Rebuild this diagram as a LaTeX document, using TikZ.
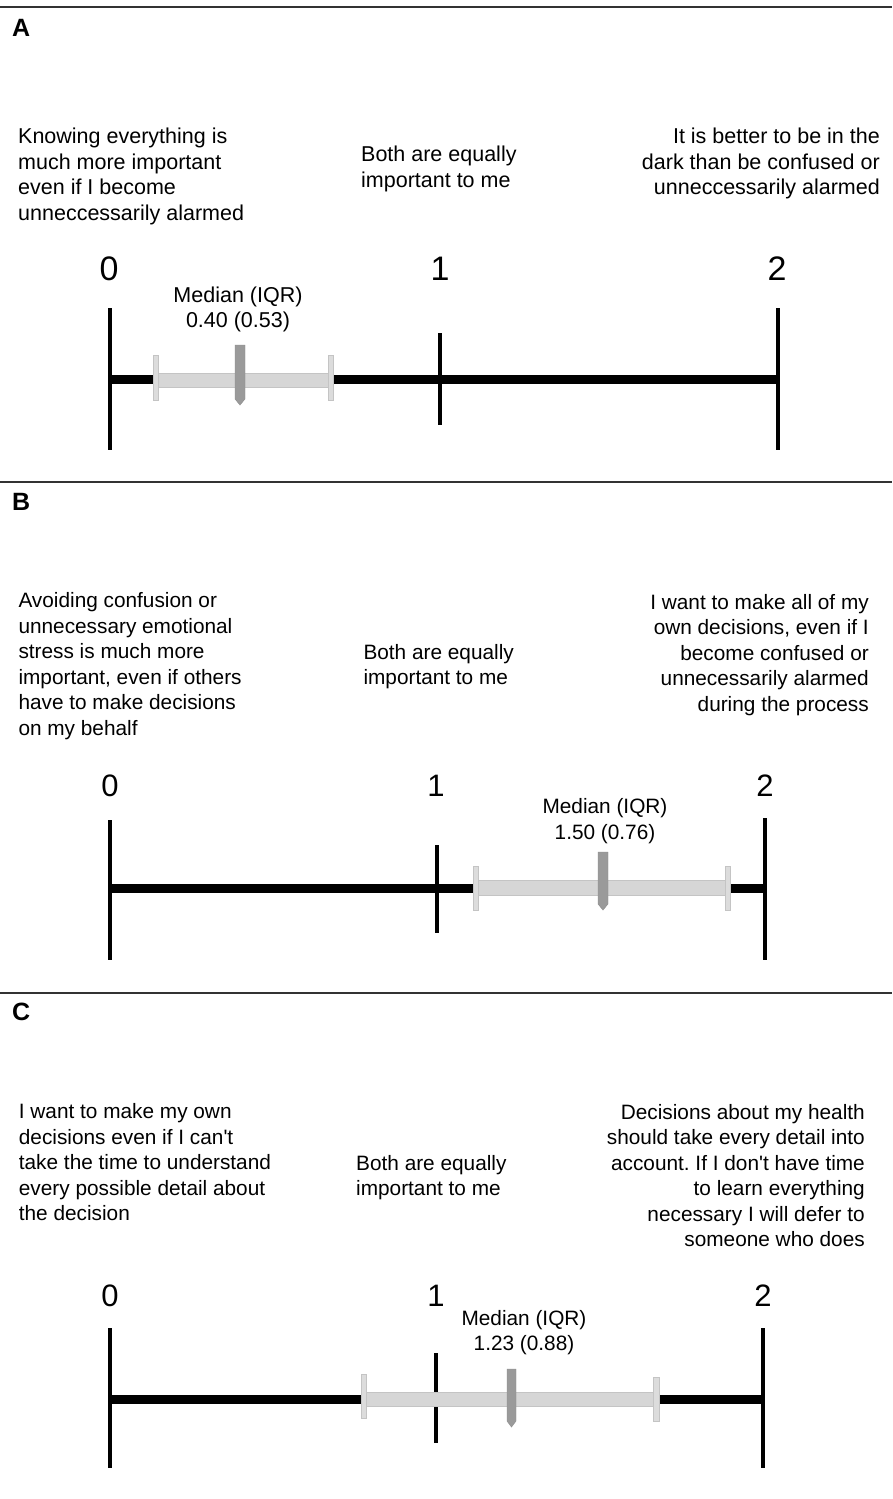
\documentclass[tikz,border=0pt]{standalone}
\usepackage{fontspec}
\setmainfont{Liberation Sans}
\frenchspacing
\definecolor{iqrgray}{HTML}{D6D6D6}
\definecolor{iqredge}{HTML}{C4C4C4}
\definecolor{medgray}{HTML}{9A9A9A}
\definecolor{sepgray}{HTML}{333333}
\begin{document}
\begin{tikzpicture}[x=1pt,y=-1pt,
  sepline/.style={draw=sepgray,line width=1.6pt},
  axisline/.style={draw=black,line width=9pt},
  tickline/.style={draw=black,line width=4.5pt},
  iqrbar/.style={fill=iqrgray,draw=iqredge,line width=0.8pt},
  iqrcap/.style={fill=iqrgray!85!white,draw=iqredge,line width=0.6pt},
  medmark/.style={fill=medgray,draw=medgray!90!black,line width=0.4pt},
  letter/.style={inner sep=0pt,anchor=base west,font=\fontsize{25}{29}\bfseries\selectfont},
  txtA/.style={inner sep=0pt,font=\fontsize{21.5}{25.7}\selectfont},
  txtB/.style={inner sep=0pt,font=\fontsize{20.8}{25.5}\selectfont},
  digA/.style={inner sep=0pt,anchor=base,font=\fontsize{34}{40}\selectfont},
  digB/.style={inner sep=0pt,anchor=base,font=\fontsize{31}{36}\selectfont}
]
\useasboundingbox[fill=white] (0,0) rectangle (892,1499);

% ================= Panel A =================
\draw[sepline] (0,7) -- (892,7);
\node[letter] (labA) at (12,36) {A};
\node[txtA,anchor=north west,align=left] (Aleft) at (18,127.7)
  {Knowing everything is\\much more important\\even if I become\\unneccessarily alarmed};
\node[txtA,anchor=north west,align=left] (Amid) at (361,146)
  {Both are equally\\important to me};
\node[txtA,anchor=north east,align=right] (Aright) at (880,127.7)
  {It is better to be in the\\dark than be confused or\\unneccessarily alarmed};
\node[digA] (A0) at (109,280) {0};
\node[digA] (A1) at (440,280) {1};
\node[digA] (A2) at (777,280) {2};
\node[txtA,anchor=base] (AmedT) at (238,302.7) {Median (IQR)};
\node[txtA,anchor=base] (AmedV) at (238,327.3) {0.40 (0.53)};
\draw[axisline] (110,379.5) -- (778,379.5);
\draw[tickline] (110,308) -- (110,450);
\draw[tickline] (440,333) -- (440,425);
\draw[tickline] (778,308) -- (778,450);
\draw[iqrbar] (156,373) rectangle (330,387);
\draw[iqrcap] (153,355) rectangle (158,400);
\draw[iqrcap] (328,355) rectangle (333,400);
\draw[medmark] (235,345) -- (245,345) -- (245,399) -- (240,405) -- (235,399) -- cycle;

% ================= Panel B =================
\draw[sepline] (0,482) -- (892,482);
\node[letter] (labB) at (12,510) {B};
\node[txtB,anchor=north west,align=left] (Bleft) at (18.3,592.7)
  {Avoiding confusion or\\unnecessary emotional\\stress is much more\\important, even if others\\have to make decisions\\on my behalf};
\node[txtB,anchor=north west,align=left] (Bmid) at (363.3,644)
  {Both are equally\\important to me};
\node[txtB,anchor=north east,align=right] (Bright) at (869,594)
  {I want to make all of my\\own decisions, even if I\\become confused or\\unnecessarily alarmed\\during the process};
\node[digB] (B0) at (110,796) {0};
\node[digB] (B1) at (436,796) {1};
\node[digB] (B2) at (765,796) {2};
\node[txtB,anchor=base] (BmedT) at (605,813) {Median (IQR)};
\node[txtB,anchor=base] (BmedV) at (605,839) {1.50 (0.76)};
\draw[axisline] (110,888) -- (765,888);
\draw[tickline] (110,820) -- (110,960);
\draw[tickline] (437,845) -- (437,933);
\draw[tickline] (765,818) -- (765,960);
\draw[iqrbar] (476,880.5) rectangle (727,895.5);
\draw[iqrcap] (473,866) rectangle (478,910);
\draw[iqrcap] (725,866) rectangle (730,910);
\draw[medmark] (598,852) -- (608,852) -- (608,904) -- (603,910) -- (598,904) -- cycle;

% ================= Panel C =================
\draw[sepline] (0,993) -- (892,993);
\node[letter] (labC) at (12,1020) {C};
\node[txtB,anchor=north west,align=left] (Cleft) at (18.7,1103.3)
  {I want to make my own\\decisions even if I can\textquotesingle t\\take the time to understand\\every possible detail about\\the decision};
\node[txtB,anchor=north west,align=left] (Cmid) at (356,1155)
  {Both are equally\\important to me};
\node[txtB,anchor=north east,align=right] (Cright) at (865,1104)
  {Decisions about my health\\should take every detail into\\account. If I don\textquotesingle t have time\\to learn everything\\necessary I will defer to\\someone who does};
\node[digB] (C0) at (110,1306) {0};
\node[digB] (C1) at (436,1306) {1};
\node[digB] (C2) at (763,1306) {2};
\node[txtB,anchor=base] (CmedT) at (524,1325) {Median (IQR)};
\node[txtB,anchor=base] (CmedV) at (524,1350) {1.23 (0.88)};
\draw[axisline] (110,1399) -- (763,1399);
\draw[tickline] (110,1328) -- (110,1468);
\draw[tickline] (436,1353) -- (436,1443);
\draw[tickline] (763,1328) -- (763,1468);
\draw[iqrbar] (365,1392) rectangle (655,1406);
\draw[iqrcap] (361.7,1374) rectangle (366.7,1418);
\draw[iqrcap] (653,1377) rectangle (659,1421);
\draw[medmark] (507,1369) -- (516,1369) -- (516,1421) -- (511.5,1427) -- (507,1421) -- cycle;
\end{tikzpicture}
\end{document}
